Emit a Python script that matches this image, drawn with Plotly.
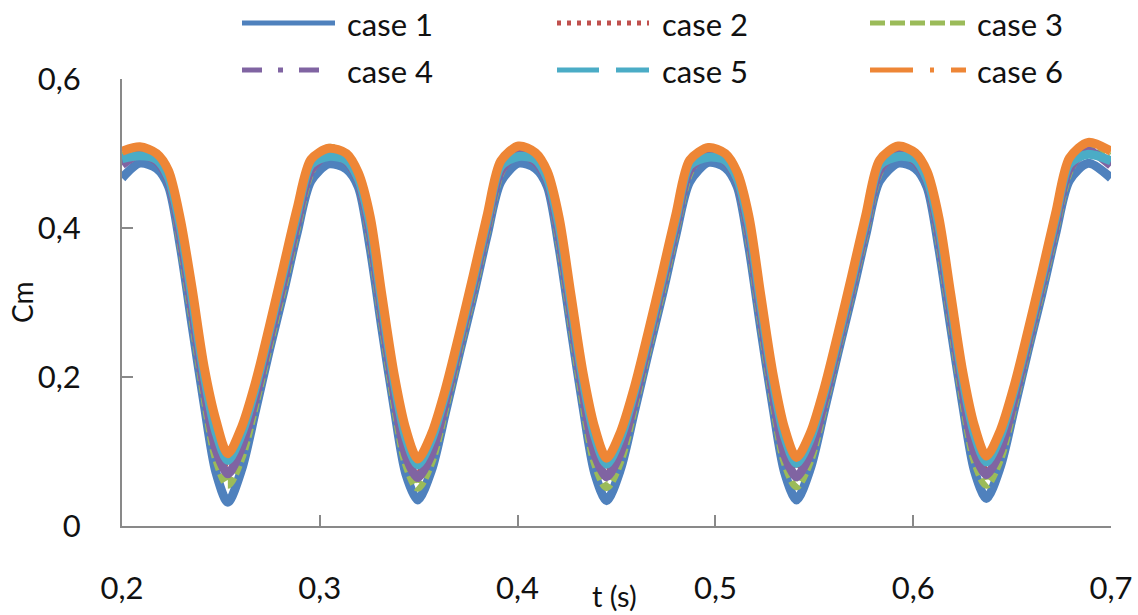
import plotly.graph_objects as go

# ---------------- data ----------------
t = [0.200, 0.209,
     0.2175, 0.2235, 0.2295, 0.2355, 0.2415, 0.2475, 0.2535, 0.2605, 0.2675, 0.2745, 0.2815, 0.2885, 0.2955, 0.3045,
     0.3135, 0.3195, 0.3255, 0.3315, 0.3375, 0.3435, 0.3495, 0.3565, 0.3635, 0.3705, 0.3775, 0.3845, 0.3915, 0.4005,
     0.4090, 0.4150, 0.4210, 0.4270, 0.4330, 0.4390, 0.4450, 0.4520, 0.4590, 0.4660, 0.4730, 0.4800, 0.4870, 0.4965,
     0.5050, 0.5110, 0.5170, 0.5230, 0.5290, 0.5350, 0.5410, 0.5480, 0.5550, 0.5620, 0.5690, 0.5760, 0.5830, 0.5925,
     0.6010, 0.6070, 0.6130, 0.6190, 0.6250, 0.6310, 0.6370, 0.6440, 0.6510, 0.6580, 0.6650, 0.6720, 0.6790, 0.6885,
     0.700]

case1 = [0.467, 0.487,
         0.480, 0.456, 0.375, 0.268, 0.164, 0.072, 0.032, 0.076, 0.155, 0.236, 0.312, 0.393, 0.463, 0.486,
         0.479, 0.455, 0.372, 0.263, 0.160, 0.070, 0.035, 0.075, 0.152, 0.231, 0.307, 0.389, 0.462, 0.487,
         0.480, 0.456, 0.373, 0.265, 0.161, 0.071, 0.034, 0.076, 0.153, 0.232, 0.308, 0.390, 0.462, 0.488,
         0.481, 0.456, 0.373, 0.264, 0.161, 0.072, 0.035, 0.077, 0.154, 0.233, 0.309, 0.390, 0.463, 0.487,
         0.480, 0.455, 0.372, 0.266, 0.163, 0.074, 0.037, 0.079, 0.156, 0.235, 0.311, 0.392, 0.464, 0.487,
         0.467]

case2 = [0.488, 0.500,
         0.491, 0.466, 0.395, 0.296, 0.193, 0.112, 0.079, 0.114, 0.178, 0.255, 0.333, 0.412, 0.481, 0.500,
         0.490, 0.465, 0.398, 0.289, 0.186, 0.104, 0.074, 0.105, 0.172, 0.248, 0.326, 0.406, 0.480, 0.501,
         0.490, 0.466, 0.397, 0.291, 0.188, 0.106, 0.075, 0.107, 0.174, 0.250, 0.328, 0.408, 0.481, 0.500,
         0.491, 0.466, 0.398, 0.290, 0.187, 0.105, 0.076, 0.106, 0.173, 0.249, 0.327, 0.407, 0.481, 0.501,
         0.490, 0.465, 0.397, 0.292, 0.189, 0.108, 0.078, 0.109, 0.176, 0.252, 0.330, 0.410, 0.483, 0.503,
         0.486]

case3 = [0.495, 0.506,
         0.497, 0.470, 0.386, 0.284, 0.180, 0.093, 0.056, 0.094, 0.167, 0.246, 0.323, 0.404, 0.477, 0.507,
         0.497, 0.468, 0.388, 0.278, 0.173, 0.086, 0.052, 0.088, 0.162, 0.240, 0.317, 0.399, 0.476, 0.508,
         0.498, 0.469, 0.387, 0.279, 0.174, 0.087, 0.053, 0.089, 0.163, 0.241, 0.318, 0.400, 0.476, 0.507,
         0.497, 0.469, 0.388, 0.279, 0.175, 0.088, 0.054, 0.090, 0.164, 0.242, 0.319, 0.400, 0.477, 0.508,
         0.498, 0.468, 0.387, 0.281, 0.176, 0.090, 0.056, 0.092, 0.166, 0.244, 0.321, 0.402, 0.478, 0.512,
         0.500]

case4 = [0.485, 0.499,
         0.490, 0.465, 0.390, 0.290, 0.187, 0.103, 0.070, 0.106, 0.173, 0.251, 0.328, 0.408, 0.478, 0.499,
         0.490, 0.464, 0.392, 0.283, 0.180, 0.095, 0.065, 0.097, 0.167, 0.244, 0.321, 0.402, 0.477, 0.500,
         0.489, 0.464, 0.391, 0.285, 0.182, 0.097, 0.066, 0.099, 0.168, 0.245, 0.323, 0.403, 0.478, 0.500,
         0.490, 0.465, 0.392, 0.284, 0.181, 0.096, 0.066, 0.098, 0.168, 0.245, 0.322, 0.403, 0.478, 0.501,
         0.490, 0.464, 0.391, 0.286, 0.183, 0.099, 0.069, 0.101, 0.170, 0.247, 0.325, 0.405, 0.480, 0.503,
         0.484]

case5 = [0.493, 0.497,
         0.492, 0.468, 0.402, 0.305, 0.203, 0.126, 0.088, 0.124, 0.186, 0.262, 0.340, 0.419, 0.485, 0.496,
         0.491, 0.466, 0.404, 0.297, 0.195, 0.119, 0.082, 0.116, 0.178, 0.252, 0.330, 0.410, 0.483, 0.496,
         0.492, 0.467, 0.403, 0.299, 0.197, 0.121, 0.083, 0.118, 0.180, 0.254, 0.332, 0.412, 0.484, 0.495,
         0.491, 0.467, 0.404, 0.298, 0.196, 0.120, 0.084, 0.117, 0.179, 0.253, 0.331, 0.411, 0.484, 0.496,
         0.492, 0.466, 0.403, 0.300, 0.198, 0.123, 0.086, 0.120, 0.182, 0.256, 0.334, 0.414, 0.486, 0.499,
         0.490]

case6 = [0.503, 0.509,
         0.500, 0.477, 0.412, 0.318, 0.214, 0.142, 0.097, 0.133, 0.193, 0.268, 0.347, 0.426, 0.492, 0.507,
         0.500, 0.474, 0.415, 0.308, 0.205, 0.130, 0.090, 0.124, 0.184, 0.258, 0.336, 0.416, 0.490, 0.510,
         0.501, 0.476, 0.414, 0.310, 0.207, 0.132, 0.091, 0.126, 0.186, 0.260, 0.338, 0.418, 0.491, 0.508,
         0.500, 0.475, 0.415, 0.309, 0.206, 0.131, 0.092, 0.125, 0.185, 0.259, 0.337, 0.417, 0.491, 0.510,
         0.501, 0.476, 0.414, 0.311, 0.208, 0.134, 0.094, 0.128, 0.188, 0.262, 0.340, 0.420, 0.494, 0.515,
         0.503]

names = ["case 1", "case 2", "case 3", "case 4", "case 5", "case 6"]
series = [case1, case2, case3, case4, case5, case6]

x_ticks = [0.2, 0.3, 0.4, 0.5, 0.6, 0.7]
x_tick_labels = ["0,2", "0,3", "0,4", "0,5", "0,6", "0,7"]
y_ticks = [0, 0.2, 0.4, 0.6]
y_tick_labels = ["0", "0,2", "0,4", "0,6"]

# ---------------- styles ----------------
colors = ["#4F81BD", "#C0504D", "#9BBB59", "#8064A2", "#4BACC6", "#EE8636"]
plot_dash = ["solid", "4px,4px", "9px,4px", "solid", "solid", "solid"]
legend_dash = ["solid", "4px,6px", "15px,5px", "20px,16px,5px,16px", "42px,17px", "43px,17px,4px,17px"]

W, H = 1138, 615
L, R, T, B = 122, 1111, 79, 526  # plot area in page pixels
FONT = "Lato, 'Open Sans', sans-serif"


def px_x(px):
    return (px - L) / (R - L)


def px_y(py):
    return (B - py) / (B - T)


fig = go.Figure()
for name, ys, col, dash in zip(names, series, colors, plot_dash):
    fig.add_trace(go.Scatter(
        x=t, y=ys, mode="lines", name=name,
        line=dict(color=col, width=9, dash=dash, shape="spline", smoothing=0.8),
        showlegend=False, hoverinfo="x+y+name",
    ))

# manual legend (2 rows x 3 columns)
legend_cols = [(242, 335, 345), (557, 649, 660), (870, 966, 975)]
legend_rows = [23, 70]
shapes = []
annotations = []
for i, (name, col, dash) in enumerate(zip(names, colors, legend_dash)):
    r, c = divmod(i, 3)
    x0, x1, xt = legend_cols[c]
    yy = legend_rows[r]
    shapes.append(dict(type="line", xref="paper", yref="paper",
                       x0=px_x(x0), x1=px_x(x1), y0=px_y(yy), y1=px_y(yy),
                       line=dict(color=col, width=5, dash=dash)))
    annotations.append(dict(text=name, xref="paper", yref="paper",
                            x=px_x(xt), y=px_y(yy + 1), xanchor="left", yanchor="middle",
                            showarrow=False, font=dict(family=FONT, size=31, color="#111111")))

annotations.append(dict(text="t (s)", xref="paper", yref="paper",
                        x=px_x(614), y=px_y(614), xanchor="center", yanchor="bottom",
                        showarrow=False, borderpad=0,
                        font=dict(family=FONT, size=29, color="#111111")))
annotations.append(dict(text="Cm", xref="paper", yref="paper", textangle=-90,
                        x=px_x(22), y=px_y(302), xanchor="center", yanchor="middle",
                        showarrow=False, font=dict(family=FONT, size=28, color="#111111")))

fig.update_layout(
    width=W, height=H,
    margin=dict(l=L, r=W - R, t=T, b=H - B, autoexpand=False),
    paper_bgcolor="white", plot_bgcolor="white",
    showlegend=False,
    shapes=shapes, annotations=annotations,
    font=dict(family=FONT, size=31, color="#111111"),
)
fig.update_xaxes(
    range=[0.2, 0.7], tickvals=x_ticks, ticktext=x_tick_labels,
    showgrid=False, zeroline=False, showline=True, linecolor="#898989", linewidth=2,
    ticks="inside", ticklen=11, tickwidth=2, tickcolor="#898989",
    ticklabelstandoff=34, tickfont=dict(family=FONT, size=31, color="#111111"),
)
fig.update_yaxes(
    range=[0, 0.6], tickvals=y_ticks, ticktext=y_tick_labels,
    showgrid=False, zeroline=False, showline=True, linecolor="#898989", linewidth=2,
    ticks="inside", ticklen=11, tickwidth=2, tickcolor="#898989",
    ticklabelstandoff=33, tickfont=dict(family=FONT, size=31, color="#111111"),
)

# remove the page's default body margin so the figure fills the window exactly
fig.write_html("out.html", config={"displayModeBar": False},
               post_script="document.body.style.margin='0';document.body.style.overflow='hidden';")
